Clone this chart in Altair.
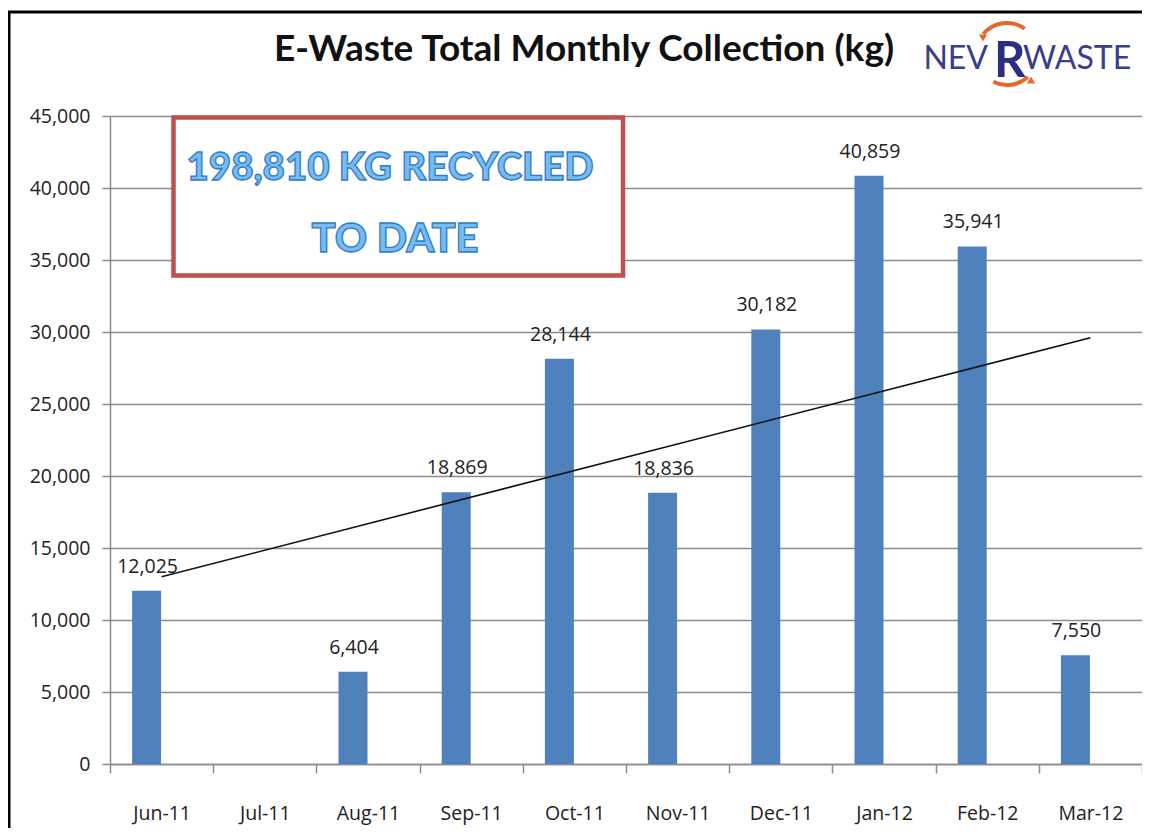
import altair as alt
import pandas as pd

months = ["Jun-11", "Jul-11", "Aug-11", "Sep-11", "Oct-11",
          "Nov-11", "Dec-11", "Jan-12", "Feb-12", "Mar-12"]
collected_kg = [12025, None, 6404, 18869, 28144, 18836, 30182, 40859, 35941, 7550]

trend_months = ["Jun-11", "Mar-12"]
trend_kg = [13000, 29600]

y_ticks = [0, 5000, 10000, 15000, 20000, 25000, 30000, 35000, 40000, 45000]

title_text = "E-Waste Total Monthly Collection (kg)"
box_line1 = "198,810 KG RECYCLED"
box_line2 = "TO DATE"

df = pd.DataFrame({"month": months, "kg": collected_kg})
df_trend = pd.DataFrame({"month": trend_months, "kg": trend_kg})
one = pd.DataFrame({"a": [0]})

LABEL_FONT = "Open Sans"
NARROW = "Lato, sans-serif"
GRID = "#8c8c8c"

x_enc = alt.X(
    "month:N", sort=months,
    scale=alt.Scale(paddingInner=0, paddingOuter=0),
    axis=alt.Axis(title=None, labelAngle=0, tickBand="extent", tickSize=9,
                  tickColor=GRID, domainColor=GRID, domainWidth=1.5, tickWidth=1.5,
                  labelFont=LABEL_FONT, labelFontSize=19.5, labelColor="#222222",
                  labelPadding=31, grid=False),
)
y_enc = alt.Y(
    "kg:Q",
    scale=alt.Scale(domain=[0, 45000], nice=False),
    axis=alt.Axis(title=None, values=y_ticks, format=",.0f", grid=True,
                  gridColor=GRID, gridWidth=1.5, domainColor=GRID, domainWidth=1.5,
                  tickColor=GRID, tickWidth=1.5, tickSize=8,
                  labelFont=LABEL_FONT, labelFontSize=19.5, labelColor="#222222",
                  labelPadding=12),
)

bars = alt.Chart(df).mark_bar(size=29, xOffset=-15, color="#4f81bd").encode(
    x=x_enc, y=y_enc)

labels = alt.Chart(df).mark_text(
    xOffset=-14, dy=-18, baseline="alphabetic", font=LABEL_FONT, fontSize=19.5,
    color="#222222").encode(
    x=alt.X("month:N", sort=months), y="kg:Q", text=alt.Text("kg:Q", format=",.0f"))

trend = alt.Chart(df_trend).mark_line(color="#111111", strokeWidth=1.6).encode(
    x=alt.X("month:N", sort=months), y="kg:Q")

box = alt.Chart(one).mark_rect(fill="white", stroke="#c0504d", strokeWidth=4.5).encode(
    x=alt.value(63.5), x2=alt.value(513), y=alt.value(1.5), y2=alt.value(159.5))

box_t1 = alt.Chart(one).mark_text(
    text=box_line1, font=NARROW, fontSize=38.5, fontWeight=900,
    fill="#74bdf2", stroke="#3579c4", strokeWidth=1.3, align="center",
    baseline="alphabetic").encode(x=alt.value(280), y=alt.value(64))
box_t2 = alt.Chart(one).mark_text(
    text=box_line2, font=NARROW, fontSize=40, fontWeight=900,
    fill="#74bdf2", stroke="#3579c4", strokeWidth=1.3, align="center",
    baseline="alphabetic").encode(x=alt.value(285), y=alt.value(136))

title = alt.Chart(one).mark_text(
    text=title_text, font=NARROW, fontSize=37, fontWeight="bold", color="#111111",
    align="center", baseline="alphabetic").encode(x=alt.value(474), y=alt.value(-55))

logo_nev = alt.Chart(one).mark_text(
    text="NEV", font=NARROW, fontSize=32, color="#3a3d8c", align="right",
    baseline="alphabetic").encode(x=alt.value(878), y=alt.value(-47))
logo_r = alt.Chart(one).mark_text(
    text="R", font=NARROW, fontSize=49, fontWeight="bold", color="#2b2e84",
    align="left", baseline="alphabetic").encode(x=alt.value(884), y=alt.value(-39))
logo_waste = alt.Chart(one).mark_text(
    text="WASTE", font=NARROW, fontSize=32, color="#3a3d8c", align="left",
    baseline="alphabetic").encode(x=alt.value(913), y=alt.value(-47))

arc_top = alt.Chart(one).mark_arc(
    theta=5.41, theta2=6.89, radius=33, radius2=29, color="#e8682c").encode(
    x=alt.value(897), y=alt.value(-62))
arc_bot = alt.Chart(one).mark_arc(
    theta=2.4, theta2=3.6, radius=33, radius2=29, color="#e8682c").encode(
    x=alt.value(897), y=alt.value(-62))
head_top = alt.Chart(one).mark_point(
    shape="triangle-down", size=70, filled=True, color="#e8682c", opacity=1).encode(
    x=alt.value(873), y=alt.value(-78))
head_bot = alt.Chart(one).mark_point(
    shape="triangle-up", size=70, filled=True, color="#e8682c", opacity=1).encode(
    x=alt.value(921), y=alt.value(-36))

border_left = alt.Chart(one).mark_rule(color="black", strokeWidth=3).encode(
    x=alt.value(-101), y=alt.value(-105), y2=alt.value(720))
border_top = alt.Chart(one).mark_rule(color="black", strokeWidth=3).encode(
    x=alt.value(-102), x2=alt.value(1040), y=alt.value(-104))

chart = alt.layer(
    bars, labels, trend, box, box_t1, box_t2, title,
    arc_top, arc_bot, head_top, head_bot, logo_nev, logo_r, logo_waste,
    border_left, border_top,
).properties(
    width=1032, height=648,
    padding={"left": 102, "top": 108, "right": 0, "bottom": 64},
    autosize=alt.AutoSizeParams(type="none"),
    background="white",
).configure_view(stroke=None)

chart.save("out.html", embed_options={"renderer": "svg", "actions": False})
